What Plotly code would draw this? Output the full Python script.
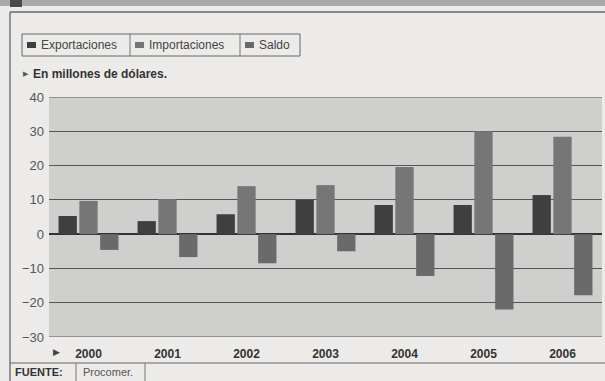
import plotly.graph_objects as go

years = ["2000", "2001", "2002", "2003", "2004", "2005", "2006"]
exportaciones = [5.3, 3.8, 5.8, 10.0, 8.5, 8.5, 11.4]
importaciones = [9.7, 10.2, 14.0, 14.3, 19.6, 30.0, 28.4]
saldo = [-4.6, -6.7, -8.5, -5.0, -12.2, -22.0, -17.8]
y_ticks = [-30, -20, -10, 0, 10, 20, 30, 40]

W, H = 605, 381
ML, MR, MT, MB = 49, 3, 97, 44
PW, PH = W - ML - MR, H - MT - MB


def px(x):
    return (x - ML) / PW


def py(y):
    return (H - MB - y) / PH


font = "Liberation Sans Narrow, Arial Narrow, Liberation Sans, sans-serif"

fig = go.Figure()
fig.add_bar(x=years, y=exportaciones, name="Exportaciones", marker_color="#3f3f3f")
fig.add_bar(x=years, y=importaciones, name="Importaciones", marker_color="#767676")
fig.add_bar(x=years, y=saldo, name="Saldo", marker_color="#6a6a6a")
fig.update_traces(marker_line_width=0, showlegend=False)

shapes = []
# header strip
shapes.append(dict(type="rect", xref="paper", yref="paper", x0=px(0), x1=px(605), y0=py(6), y1=py(0),
                   fillcolor="#a9a9a9", line_width=0, layer="below"))
shapes.append(dict(type="rect", xref="paper", yref="paper", x0=px(10), x1=px(22), y0=py(7), y1=py(0),
                   fillcolor="#4a4a4a", line_width=0, layer="below"))
# frame lines
shapes.append(dict(type="line", xref="paper", yref="paper", x0=px(10), x1=px(605), y0=py(12), y1=py(12),
                   line=dict(color="#666", width=1.5)))
shapes.append(dict(type="line", xref="paper", yref="paper", x0=px(10), x1=px(10), y0=py(12), y1=py(381),
                   line=dict(color="#777", width=1.5)))
shapes.append(dict(type="line", xref="paper", yref="paper", x0=px(10), x1=px(605), y0=py(363), y1=py(363),
                   line=dict(color="#666", width=1.2)))
# source box dividers
shapes.append(dict(type="line", xref="paper", yref="paper", x0=px(76), x1=px(76), y0=py(363), y1=py(381),
                   line=dict(color="#777", width=1)))
shapes.append(dict(type="line", xref="paper", yref="paper", x0=px(145), x1=px(145), y0=py(363), y1=py(381),
                   line=dict(color="#777", width=1)))
# top and bottom gridlines of plot
for yv in (y_ticks[0], y_ticks[-1]):
    shapes.append(dict(type="line", xref="paper", yref="y", x0=0, x1=1, y0=yv, y1=yv,
                       line=dict(color="#555", width=1)))
# legend box
shapes.append(dict(type="rect", xref="paper", yref="paper", x0=px(22), x1=px(300), y0=py(56), y1=py(34),
                   line=dict(color="#666", width=1), fillcolor="rgba(0,0,0,0)"))
for xd in (130, 240):
    shapes.append(dict(type="line", xref="paper", yref="paper", x0=px(xd), x1=px(xd), y0=py(56), y1=py(34),
                       line=dict(color="#777", width=1)))
leg_items = [("Exportaciones", 27, "#3f3f3f"), ("Importaciones", 135, "#767676"), ("Saldo", 245, "#6a6a6a")]
annotations = []
for name, x0, col in leg_items:
    shapes.append(dict(type="rect", xref="paper", yref="paper", x0=px(x0), x1=px(x0 + 9), y0=py(48), y1=py(42),
                       fillcolor=col, line_width=0))
    annotations.append(dict(text=name, xref="paper", yref="paper", x=px(x0 + 12), y=py(45), xanchor="left",
                            yanchor="middle", showarrow=False, font=dict(family=font, size=12, color="#444")))

annotations.append(dict(text="▶", xref="paper", yref="paper", x=px(21), y=py(74), xanchor="left",
                        yanchor="middle", showarrow=False, font=dict(family=font, size=7, color="#555")))
annotations.append(dict(text="<b>En millones de dólares.</b>", xref="paper", yref="paper", x=px(31), y=py(74),
                        xanchor="left", yanchor="middle", showarrow=False,
                        font=dict(family=font, size=12, color="#333")))
annotations.append(dict(text="▶", xref="paper", yref="paper", x=px(51), y=py(352), xanchor="left",
                        yanchor="middle", showarrow=False, font=dict(family=font, size=9, color="#444")))
annotations.append(dict(text="<b>FUENTE:</b>", xref="paper", yref="paper", x=px(13), y=py(372), xanchor="left",
                        yanchor="middle", showarrow=False, font=dict(family=font, size=11, color="#333")))
annotations.append(dict(text="Procomer.", xref="paper", yref="paper", x=px(81), y=py(372), xanchor="left",
                        yanchor="middle", showarrow=False, font=dict(family=font, size=11, color="#555")))

fig.update_layout(
    width=W, height=H,
    margin=dict(l=ML, r=MR, t=MT, b=MB),
    paper_bgcolor="#ecebe9",
    plot_bgcolor="#cfcfcd",
    barmode="group",
    bargap=0.21,
    bargroupgap=0.12,
    shapes=shapes,
    annotations=annotations,
    xaxis=dict(showgrid=False, ticks="", tickfont=dict(family="Liberation Sans, sans-serif", size=12,
                                                        color="#333", weight="bold"),
               showline=False, zeroline=False, ticklabelstandoff=8),
    yaxis=dict(range=[-30, 40], tickvals=y_ticks, showgrid=True, gridcolor="#555", gridwidth=1,
               zeroline=True, zerolinecolor="#333", zerolinewidth=2, ticks="",
               tickfont=dict(family="Liberation Sans, sans-serif", size=13, color="#555"), ticklabelstandoff=4),
)

fig.write_html("out.html")
